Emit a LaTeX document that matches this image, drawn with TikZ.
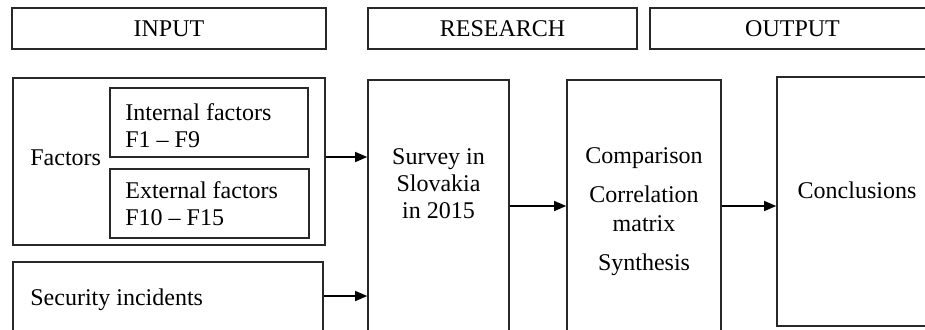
\documentclass[tikz,border=0pt]{standalone}
\usepackage{fontspec}
\setmainfont{Liberation Serif}
\usetikzlibrary{positioning}
\usetikzlibrary{arrows.meta}

\tikzset{
  frame/.style={draw={rgb,255:red,40;green,40;blue,40}, line width=0.8pt, rectangle, inner sep=0pt},
  txt/.style={inner sep=0pt, font=\fontsize{12}{13.5}\selectfont},
  flow/.style={-{Triangle[length=6pt,width=5pt]}, line width=0.65pt},
}

\begin{document}
\begin{tikzpicture}[x=0.5pt,y=0.5pt,yscale=-1,xscale=1]
\useasboundingbox (0,0) rectangle (925,329);
\clip (0,0) rectangle (925,329);

%Shape: Rectangle (headers)
\node [frame, txt, minimum width=157pt, minimum height=20.5pt] (hinput) at (169,28.5) {INPUT};
\node [frame, txt, minimum width=134.5pt, minimum height=20.5pt] (hresearch) at (502.5,28.5) {RESEARCH};
\node [frame, txt, minimum width=142.5pt, minimum height=20.5pt] (houtput) at (792.5,28.5) {OUTPUT};

%Shape: Rectangle (input side)
\node [frame, minimum width=156pt, minimum height=83.5pt] (factors) at (169,161.5) {};
\node [frame, minimum width=99pt, minimum height=34.5pt] (internal) at (209,122.5) {};
\node [frame, minimum width=99.5pt, minimum height=34.5pt] (external) at (209.5,203.5) {};
\node [frame, minimum width=155pt, minimum height=41.5pt] (security) at (168,303.5) {};

%Shape: Rectangle (research and output)
\node [frame, minimum width=70.5pt, minimum height=132.5pt] (survey) at (438.5,212.5) {};
\node [frame, minimum width=77pt, minimum height=132.5pt] (compar) at (644,212.5) {};
\node [frame, minimum width=79pt, minimum height=124.5pt] (concl) at (856,201.5) {};

% Text Node
\node [txt, anchor=base west] (factorstxt) at (30,165) {Factors};
% Text Node
\node [txt, anchor=north west, align=left] (internaltxt) at (125,103) {Internal factors\\F1 -- F9};
% Text Node
\node [txt, anchor=north west, align=left] (externaltxt) at (125,181) {External factors\\F10 -- F15};
% Text Node
\node [txt, anchor=base west] (securitytxt) at (30,305) {Security incidents};
% Text Node
\node [txt, anchor=north, align=center] (surveytxt) at (438.5,148) {Survey in\\Slovakia\\in 2015};
% Text Node
\node [txt, anchor=north, align=center] (compartxt) at (644,147) {Comparison\\[6pt]Correlation\\[1pt]matrix\\[6pt]Synthesis};
% Text Node
\node [txt, anchor=base] (concltxt) at (857,198) {Conclusions};

%Straight Lines (arrows)
\coordinate (lvlA) at (0,157);
\coordinate (lvlB) at (0,296);
\coordinate (lvlC) at (0,206);
\draw [flow] (factors.east |- lvlA) -- (survey.west |- lvlA);
\draw [flow] (security.east |- lvlB) -- (survey.west |- lvlB);
\draw [flow] (survey.east |- lvlC) -- (compar.west |- lvlC);
\draw [flow] (compar.east |- lvlC) -- (concl.west |- lvlC);

\end{tikzpicture}
\end{document}
